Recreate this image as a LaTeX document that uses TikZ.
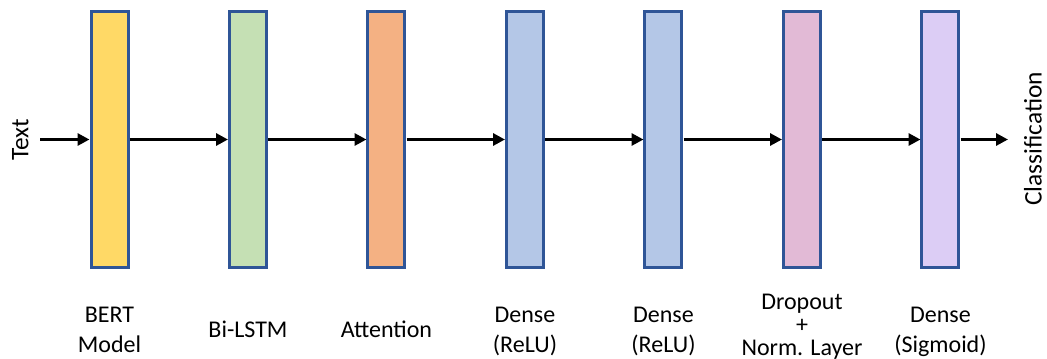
\documentclass[tikz,border=0pt]{standalone}
\usepackage{fontspec}
\setmainfont{Carlito}
\usepackage{tikz}
\usetikzlibrary{matrix,arrows.meta}

\definecolor{bertc}{HTML}{FFD966}
\definecolor{lstmc}{HTML}{C5E0B4}
\definecolor{attc}{HTML}{F4B183}
\definecolor{densec}{HTML}{B4C7E7}
\definecolor{dropc}{HTML}{E2BAD6}
\definecolor{sigc}{HTML}{DCCDF5}
\definecolor{edgec}{HTML}{2F5597}

\begin{document}
\begin{tikzpicture}[x=0.75pt,y=-0.75pt,
    conn/.style={-{Triangle[length=9pt,width=9pt]},line width=2.25pt},
    lbl/.style={anchor=center,align=center,inner sep=0pt,text depth=0pt,font=\fontsize{18}{22.5}\selectfont},
    side/.style={anchor=base,rotate=90,inner sep=0pt,font=\fontsize{19}{23}\selectfont}]

    	\useasboundingbox (0,0) rectangle (1047,358);

    	%\matrix of the layer boxes
    	\matrix (m) at (525,139.5) [matrix of nodes, nodes in empty cells,
    		column sep=73.875pt,
    		nodes={rectangle,draw=edgec,line width=2.25pt,minimum width=27.75pt,minimum height=192pt,inner sep=0pt} ]{
      			|[fill=bertc]| & |[fill=lstmc]| & |[fill=attc]| & |[fill=densec]| & |[fill=densec]| & |[fill=dropc]| & |[fill=sigc]| \\ };

    	\coordinate (txtin) at (40,139.5);
    	\coordinate (clsout) at (1008,139.5);
    	\coordinate (lblrow) at (0,329.4);

    	\draw[conn] (txtin) -- (m-1-1);
    	\draw[conn] (m-1-1) -- (m-1-2);
    	\draw[conn] (m-1-2) -- (m-1-3);
    	\draw[conn] (m-1-3) -- (m-1-4);
    	\draw[conn] (m-1-4) -- (m-1-5);
    	\draw[conn] (m-1-5) -- (m-1-6);
    	\draw[conn] (m-1-6) -- (m-1-7);
    	\draw[conn] (m-1-7) -- (clsout);

    	\node[side] (txtlbl) at (28.3,140) {Text};
    	\node[side] (clslbl) at (1041.7,139) {Classification};

    	\node[lbl] (bertlbl) at (m-1-1 |- lblrow) {BERT\\Model};
    	\node[lbl] (lstmlbl) at (m-1-2 |- lblrow) {Bi-LSTM};
    	\node[lbl] (attlbl) at (m-1-3 |- lblrow) {Attention};
    	\node[lbl] (dense1lbl) at (m-1-4 |- lblrow) {Dense\\(ReLU)};
    	\node[lbl] (dense2lbl) at (m-1-5 |- lblrow) {Dense\\(ReLU)};
    	\node[lbl,yshift=3.5pt,font=\fontsize{18}{17.5}\selectfont] (droplbl) at (m-1-6 |- lblrow) {Dropout\\+\\Norm. Layer};
    	\node[lbl] (siglbl) at (m-1-7 |- lblrow) {Dense\\(Sigmoid)};
  		\end{tikzpicture}
\end{document}
